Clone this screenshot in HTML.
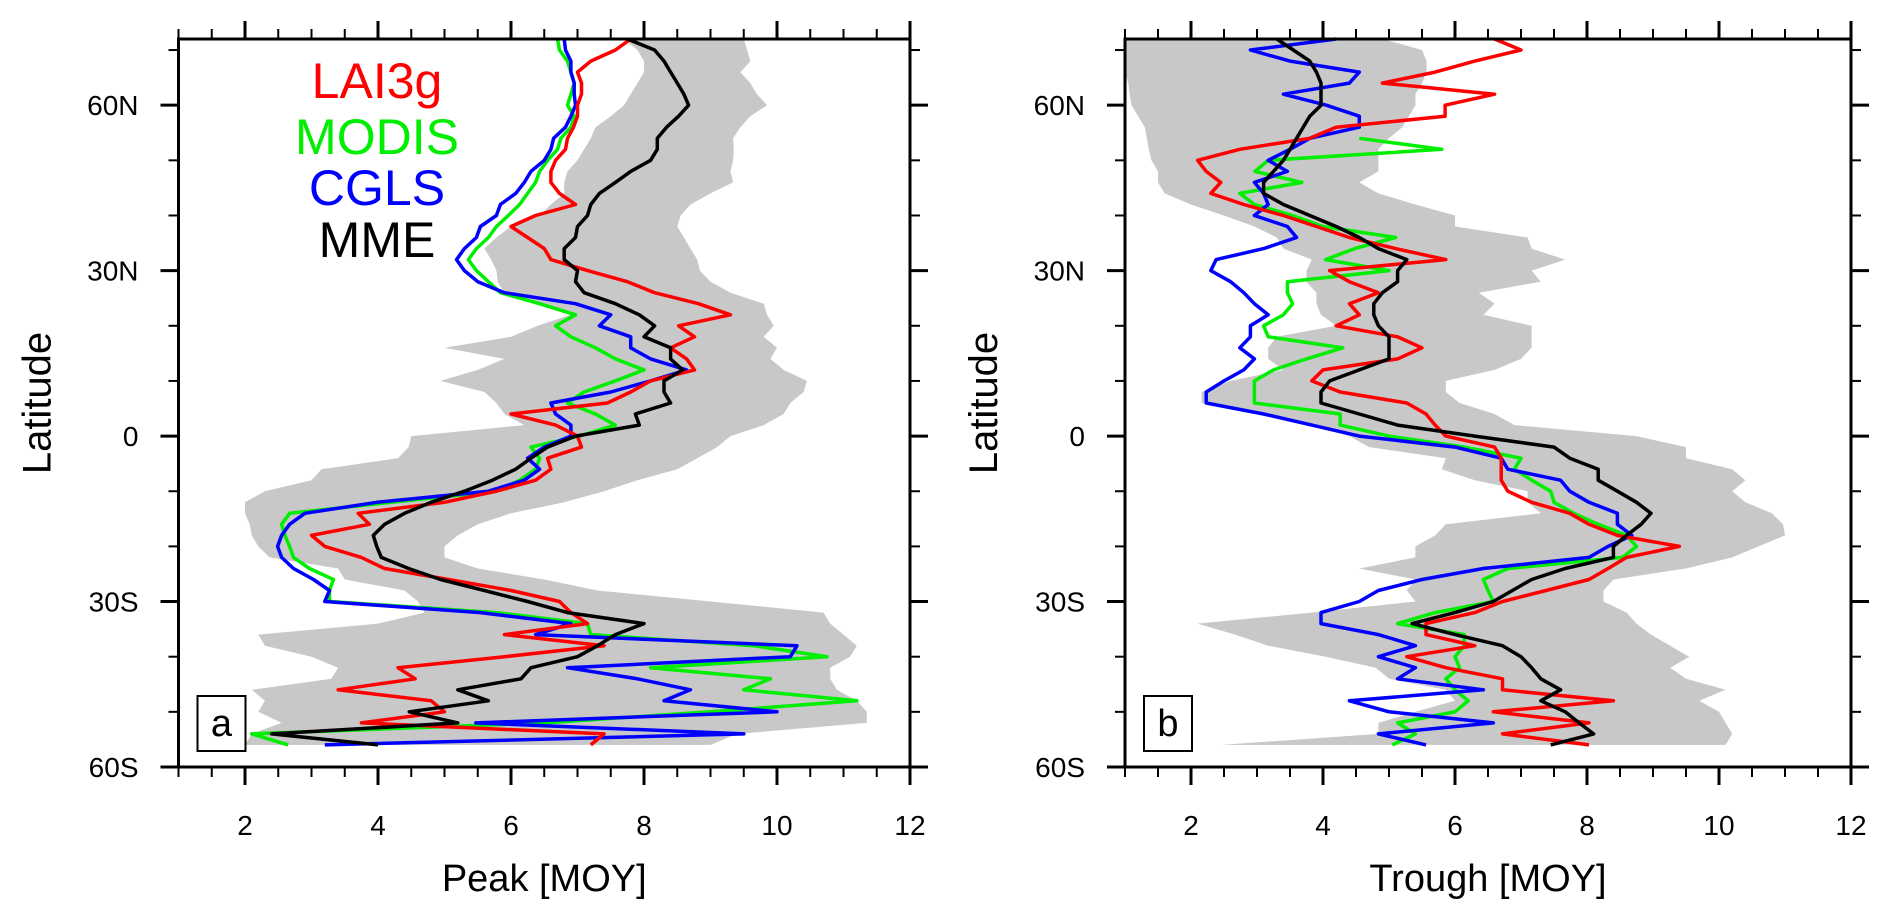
<!DOCTYPE html>
<html><head><meta charset="utf-8">
<style>
html,body{margin:0;padding:0;background:#fff;}
svg{display:block;font-family:"Liberation Sans",Arial,sans-serif;}
</style></head>
<body>
<svg id="chart" width="1892" height="920" viewBox="0 0 1892 920" xmlns="http://www.w3.org/2000/svg">
<g id="panelA"></g>
<g id="panelB"></g>
</svg>
<script>
const lats = [72,70,68,66,64,62,60,58,56,54,52,50,48,46,44,42,40,38,36,34,32,30,28,26,24,22,20,18,16,14,12,10,8,6,4,2,0,-2,-4,-6,-8,-10,-12,-14,-16,-18,-20,-22,-24,-26,-28,-30,-32,-34,-36,-38,-40,-42,-44,-46,-48,-50,-52,-54,-56];
const xTicks = [2,4,6,8,10,12];
const yTickVals = [-60,-30,0,30,60];
const yTickLabels = ["60S","30S","0","30N","60N"];
const seriesNames = ["LAI3g","MODIS","CGLS","MME"];

// Panel a: Peak [MOY]
const peakLAI3g = [7.8,7.57,7.2,7.0,7.06,7.06,7.0,7.0,6.94,6.85,6.82,6.67,6.6,6.6,6.73,6.97,6.37,6.0,6.25,6.5,6.6,7.15,7.75,8.16,8.82,9.3,8.52,8.76,8.4,8.64,8.76,8.1,7.8,7.45,6.0,6.67,7.0,7.06,6.55,6.6,6.37,5.78,5.0,3.7,3.87,3.0,3.2,3.75,4.1,5.06,6.0,6.73,6.9,7.15,5.9,7.4,5.9,4.3,4.56,3.4,4.8,5.0,3.75,7.4,7.2];
const peakMODIS = [6.7,6.73,6.85,6.9,6.95,6.9,6.85,6.95,6.9,6.75,6.7,6.55,6.43,6.37,6.25,6.13,5.96,5.78,5.66,5.48,5.36,5.48,5.66,5.84,6.43,6.97,6.67,6.9,7.27,7.57,8.0,7.57,7.1,6.85,7.27,7.57,7.03,6.3,6.43,6.37,6.13,5.78,4.2,2.67,2.55,2.6,2.67,2.73,2.97,3.33,3.27,3.27,5.78,7.15,7.2,9.65,10.75,8.1,9.9,9.5,11.2,9.0,6.5,2.1,2.65];
const peakCGLS = [6.8,6.82,6.9,6.9,6.95,6.95,6.97,6.9,6.82,6.64,6.6,6.5,6.3,6.2,6.07,5.84,5.78,5.54,5.48,5.3,5.18,5.3,5.5,5.9,6.97,7.5,7.33,7.8,7.8,8.1,8.64,8.1,7.5,6.6,6.67,6.9,6.9,6.5,6.25,6.43,6.2,5.66,3.98,2.9,2.67,2.55,2.49,2.55,2.73,3.03,3.27,3.2,5.54,6.9,6.37,10.3,10.2,6.85,7.9,8.7,8.3,10.0,5.47,9.5,3.2];
const peakMME = [7.75,8.16,8.3,8.4,8.5,8.6,8.67,8.52,8.34,8.2,8.2,8.1,7.8,7.57,7.33,7.2,7.15,7.0,6.97,6.8,6.8,7.0,6.97,7.1,7.57,7.93,8.16,8.0,8.4,8.4,8.58,8.3,8.3,8.4,7.87,7.93,6.97,6.55,6.3,6.07,5.72,5.3,4.8,4.4,4.1,3.93,3.98,4.05,4.46,4.94,5.6,6.25,6.85,8.0,7.57,7.3,7.0,6.3,6.15,5.2,5.66,4.47,5.2,2.4,4.0];
const peakMin = [7.7,7.9,8.0,8.0,7.9,7.8,7.7,7.5,7.27,7.2,7.1,7.0,6.85,6.8,6.8,6.6,6.43,6.0,5.78,5.6,5.7,5.78,5.8,5.9,6.37,6.9,6.4,6.0,5.0,5.9,5.5,4.94,5.6,5.78,5.9,6.2,4.5,4.46,4.3,3.15,3.0,2.3,2.0,2.0,2.07,2.1,2.2,2.37,3.4,3.5,4.4,4.6,4.7,4.0,2.2,2.3,3.0,3.4,3.3,2.1,2.3,2.2,2.55,2.1,2.0];
const peakMax = [9.5,9.55,9.6,9.45,9.6,9.7,9.85,9.6,9.45,9.34,9.35,9.34,9.3,9.34,9.0,8.7,8.55,8.5,8.6,8.7,8.8,8.84,9.0,9.3,9.8,9.85,9.95,9.8,10.0,9.9,10.1,10.45,10.4,10.2,10.1,9.8,9.3,9.1,8.8,8.5,7.9,7.4,6.8,6.0,5.5,5.2,5.0,5.0,5.5,6.5,7.3,9.0,10.7,10.8,11.0,11.2,11.1,10.8,10.8,10.9,11.2,11.35,11.35,9.4,9.0];

// Panel b: Trough [MOY]
const troughLAI3g = [6.6,7.0,6.3,5.7,4.9,6.6,5.85,5.85,4.2,3.8,2.74,2.1,2.23,2.45,2.3,2.8,3.4,3.9,4.4,5.1,5.86,4.1,4.4,4.84,4.4,4.55,4.2,5.13,5.5,5.13,4.0,3.83,4.26,5.27,5.56,5.7,5.86,6.6,6.7,6.7,6.7,6.8,7.16,7.74,8.03,8.46,9.4,8.6,8.32,8.03,7.38,6.72,6.3,5.56,5.56,6.3,5.27,5.86,6.72,6.72,8.4,6.58,8.03,6.72,8.03];
const troughMODIS = [null,null,null,null,null,null,null,null,null,4.55,5.8,3.17,2.97,3.68,2.74,2.96,3.54,4.0,5.1,4.48,4.04,5.0,3.46,3.46,3.54,3.4,3.1,3.17,4.3,3.75,3.25,2.96,2.96,2.96,4.26,4.26,5.0,6.14,7.0,6.9,7.16,7.45,7.5,7.8,8.17,8.6,8.75,8.54,6.8,6.43,6.5,6.58,5.7,5.13,6.14,6.14,6.0,6.07,5.86,6.0,6.2,6.0,5.13,5.4,5.05];
const troughCGLS = [4.2,2.9,3.5,4.55,4.4,3.4,4.05,4.55,4.55,3.8,3.5,3.17,3.46,2.96,3.1,3.17,2.96,3.46,3.6,3.1,2.38,2.3,2.6,2.8,2.96,3.17,2.9,2.9,2.74,2.96,2.8,2.5,2.23,2.23,3.1,3.83,4.55,6.0,6.7,6.8,7.6,7.74,8.03,8.46,8.46,8.68,8.32,8.03,6.43,5.5,4.84,4.55,3.97,3.97,4.84,5.4,4.84,5.4,5.13,6.43,4.4,5.0,6.58,4.84,5.56];
const troughMME = [3.3,3.55,3.8,3.9,3.97,3.97,3.97,3.8,3.7,3.6,3.5,3.4,3.25,3.1,3.1,3.4,3.8,4.2,4.55,4.84,5.27,5.13,5.13,4.9,4.77,4.77,4.84,5.0,5.0,5.0,4.55,4.1,3.97,3.97,4.55,5.13,6.3,7.5,7.74,8.17,8.17,8.46,8.75,8.97,8.82,8.6,8.4,8.4,7.67,7.16,6.87,6.58,6.0,5.35,6.0,6.72,7.0,7.16,7.3,7.6,7.3,7.67,7.88,8.1,7.45];
const troughMin = [1,1,1,1,1.05,1.07,1.1,1.2,1.3,1.33,1.36,1.4,1.5,1.5,1.6,2.0,2.5,2.96,3.3,3.4,3.83,3.75,3.75,3.9,3.9,3.97,4.2,3.3,3.17,3.17,3.4,2.6,2.16,2.16,3.1,3.83,4.4,4.7,5.86,5.8,6.3,7.1,7.1,7.3,5.86,5.7,5.4,5.4,4.55,5.4,5.27,5.4,3.83,2.1,2.67,3.17,4.04,4.8,5.0,5.86,6.0,5.4,4.84,4.84,2.45];
const troughMax = [4.9,5.5,5.57,5.57,5.5,5.4,5.4,5.3,5.2,5.0,4.84,4.84,4.84,4.55,4.84,5.4,6.0,6.0,7.1,7.16,7.67,7.16,7.3,6.36,6.6,6.43,7.16,7.16,7.16,7.0,6.6,5.86,5.86,6.07,6.6,6.9,8.75,9.5,9.5,10.2,10.4,10.2,10.4,10.8,10.97,11.0,10.6,10.2,9.5,8.4,8.25,8.25,8.6,8.75,8.97,9.26,9.55,9.26,9.5,10.1,9.7,10.0,10.1,10.2,10.1];

const NS = "http://www.w3.org/2000/svg";
const TOP = 39, BOT = 767, LAT_MIN = -60, LAT_MAX = 72;
function yScale(lat){ return BOT - (lat - LAT_MIN) * (BOT - TOP) / (LAT_MAX - LAT_MIN); }
function makeX(left, right){ return v => left + (v - 1) * (right - left) / 11; }

function el(tag, attrs, parent){
  const e = document.createElementNS(NS, tag);
  for (const k in attrs) e.setAttribute(k, attrs[k]);
  parent.appendChild(e);
  return e;
}

function drawPanel(g, left, right, minArr, maxArr, series, xTitle, letter, showLegend){
  const xS = makeX(left, right);
  // shading envelope
  let pts = [];
  for (let i = 0; i < lats.length; i++) pts.push(xS(maxArr[i]).toFixed(1) + "," + yScale(lats[i]).toFixed(1));
  for (let i = lats.length - 1; i >= 0; i--) pts.push(xS(minArr[i]).toFixed(1) + "," + yScale(lats[i]).toFixed(1));
  const poly = el("polygon", {points: pts.join(" "), fill: "#c8c8c8", stroke: "none"}, g);
  
  

  const colors = ["#ff0000","#00ee00","#0000ff","#000000"];
  const order = [1,2,0,3];
  order.forEach(si => {
    const arr = series[si];
    let p = [];
    for (let i = 0; i < lats.length; i++) {
      if (arr[i] === null) continue;
      p.push(xS(arr[i]).toFixed(1) + "," + yScale(lats[i]).toFixed(1));
    }
    const line = el("polyline", {points: p.join(" "), fill: "none", stroke: colors[si], "stroke-width": 3.5, "stroke-linejoin": "round"}, g);
    
    
  });

  // frame
  const frame = el("rect", {x: left, y: TOP, width: right - left, height: BOT - TOP, fill: "none", stroke: "#000", "stroke-width": 3}, g);
  
  

  // x ticks (top & bottom)
  for (let v = 1; v <= 12.001; v += 0.5) {
    const major = Math.abs(v - Math.round(v)) < 1e-6 && Math.round(v) % 2 === 0;
    const len = major ? 18 : 10;
    const x = xS(v);
    el("line", {x1: x, y1: BOT, x2: x, y2: BOT + len, stroke: "#000", "stroke-width": major ? 3 : 2}, g);
    el("line", {x1: x, y1: TOP, x2: x, y2: TOP - len, stroke: "#000", "stroke-width": major ? 3 : 2}, g);
  }
  xTicks.forEach(v => {
    const t = el("text", {x: xS(v), y: 835, "text-anchor": "middle", "font-size": 28}, g);
    t.textContent = String(v);
    
    
  });
  // y ticks (left & right)
  for (let lat = -60; lat <= 70; lat += 10) {
    const major = lat % 30 === 0;
    const len = major ? 18 : 10;
    const y = yScale(lat);
    el("line", {x1: left, y1: y, x2: left - len, y2: y, stroke: "#000", "stroke-width": major ? 3 : 2}, g);
    el("line", {x1: right, y1: y, x2: right + len, y2: y, stroke: "#000", "stroke-width": major ? 3 : 2}, g);
  }
  yTickVals.forEach((lat, i) => {
    const t = el("text", {x: left - 40, y: yScale(lat) + 10, "text-anchor": "end", "font-size": 28}, g);
    t.textContent = yTickLabels[i];
    
    
  });
  // titles
  const xt = el("text", {x: (left + right) / 2, y: 891, "text-anchor": "middle", "font-size": 38}, g);
  xt.textContent = xTitle;
  
  
  const yx = left - 128, yy = (TOP + BOT) / 2;
  const yt = el("text", {x: yx, y: yy, "text-anchor": "middle", "font-size": 40, transform: "rotate(-90 " + yx + " " + yy + ")"}, g);
  yt.textContent = "Latitude";
  
  
  // panel letter box
  const bx = left + 19, by = 696;
  const box = el("rect", {x: bx, y: by, width: 48, height: 55, fill: "#fff", stroke: "#000", "stroke-width": 2}, g);
  
  
  const lt = el("text", {x: bx + 24, y: by + 40, "text-anchor": "middle", "font-size": 38}, g);
  lt.textContent = letter;
  
  

  if (showLegend) {
    const lg = el("g", {}, g);
    
    
    const base = [98, 154, 205, 257];
    seriesNames.forEach((n, i) => {
      const t = el("text", {x: 377, y: base[i], "text-anchor": "middle", "font-size": 50, fill: colors[i]}, lg);
      t.textContent = n;
      
      
    });
  }
}

drawPanel(document.getElementById("panelA"), 178.5, 910, peakMin, peakMax,
  [peakLAI3g, peakMODIS, peakCGLS, peakMME], "Peak [MOY]", "a", true);
drawPanel(document.getElementById("panelB"), 1125, 1851, troughMin, troughMax,
  [troughLAI3g, troughMODIS, troughCGLS, troughMME], "Trough [MOY]", "b", false);
</script>
</body></html>
